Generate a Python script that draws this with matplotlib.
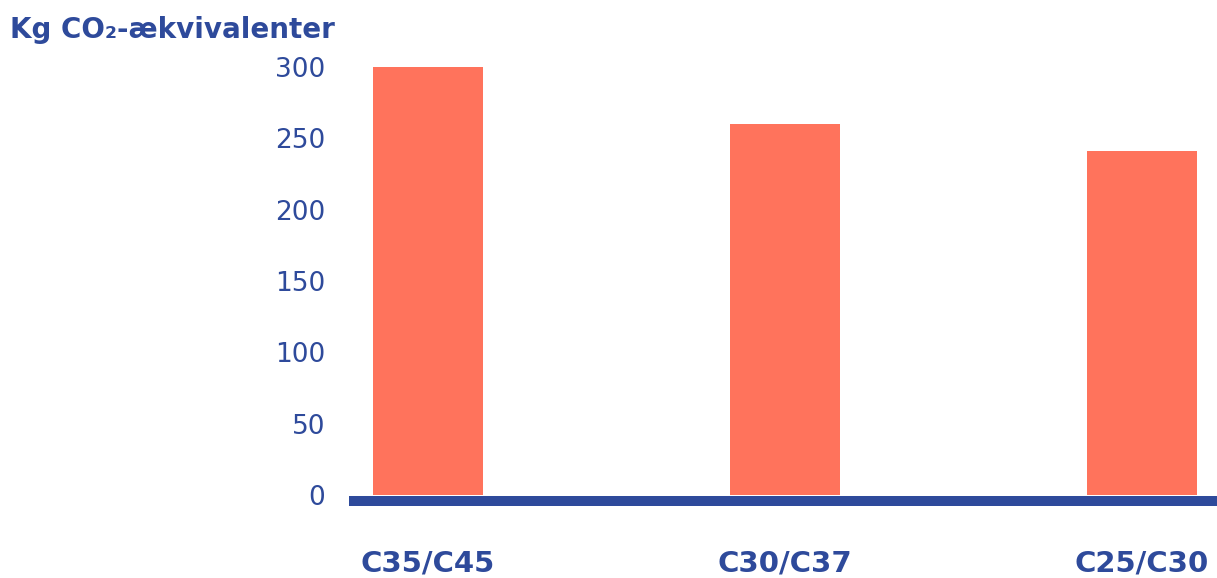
import matplotlib.pyplot as plt

categories = ['C35/C45', 'C30/C37', 'C25/C30']
co2_kg = [300, 260, 241]
y_ticks = [0, 50, 100, 150, 200, 250, 300]

BLUE = '#2E4A9B'
CORAL = '#FF735C'

W, H = 1217, 578
fig = plt.figure(figsize=(W / 100, H / 100), dpi=100)

# axes box in pixels: left 349, right 1217, top 60, bottom 506
ax = fig.add_axes([349 / W, (H - 506) / H, (1217 - 349) / W, (506 - 60) / H])

x = range(len(categories))
ax.bar(x, co2_kg, width=0.308, color=CORAL, zorder=2)

px_per_unit = (495 - 67) / 300
ax.set_ylim(-(506 - 495) / px_per_unit, (495 - 60) / px_per_unit)
ax.set_xlim(-0.221, 2.21)

# thick baseline under the bars
base_y = -(500.5 - 495) / px_per_unit
ax.axhline(base_y, color=BLUE, lw=11 * 72 / 100, zorder=3)

for s in ax.spines.values():
    s.set_visible(False)

ax.set_yticks(y_ticks)
ax.set_yticklabels([str(t) for t in y_ticks])
ax.tick_params(axis='y', length=0, pad=17, labelsize=19, labelcolor=BLUE)

ax.set_xticks(list(x))
ax.set_xticklabels(categories, fontsize=21, fontweight='bold', color=BLUE)
ax.tick_params(axis='x', length=0, pad=31)

fig.text(10 / W, 1 - 30 / H, 'Kg CO₂-ækvivalenter', fontsize=20, fontweight='bold',
         color=BLUE, ha='left', va='center')

fig.savefig('out.png', dpi=100)
